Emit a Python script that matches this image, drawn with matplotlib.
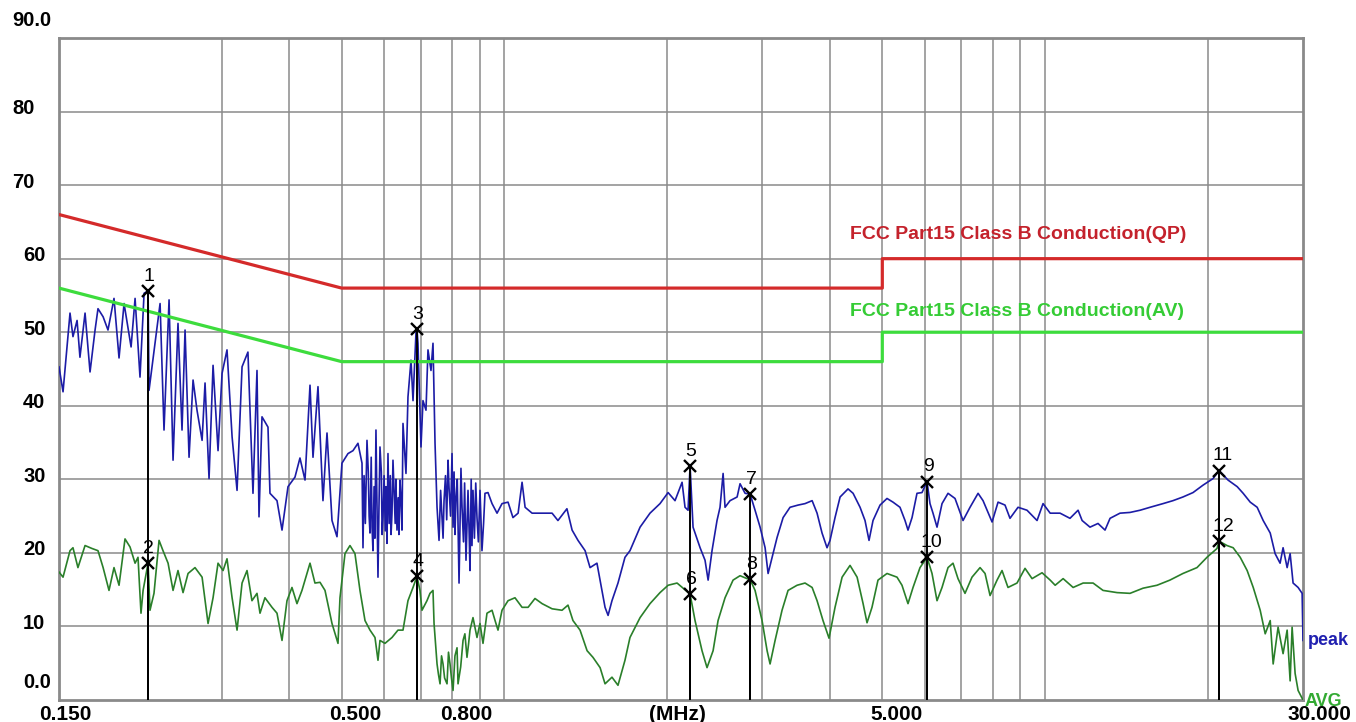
import matplotlib
matplotlib.use('Agg')
import matplotlib.pyplot as plt

plt.rcParams['font.family'] = ['Liberation Sans', 'DejaVu Sans']

# limit lines, MHz / dBuV
qp_freq = [0.15, 0.5, 5.0, 5.0, 30.0]
qp_level = [66, 56, 56, 60, 60]
av_freq = [0.15, 0.5, 5.0, 5.0, 30.0]
av_level = [56, 46, 46, 50, 50]

# peak trace
peak_freq = [
    0.150, 0.1526, 0.1572, 0.1592, 0.1620, 0.1640, 0.1676, 0.1712, 0.1749, 0.1771,
    0.1810, 0.1848, 0.1896, 0.1937, 0.1979, 0.2039, 0.2074, 0.2118, 0.2155, 0.2192,
    0.2201, 0.2258, 0.2307, 0.2346, 0.2397, 0.2438, 0.2490, 0.2533, 0.2566, 0.2610,
    0.2655, 0.2700, 0.2759, 0.2794, 0.2842, 0.2891, 0.2953, 0.3004, 0.3068, 0.3135,
    0.3202, 0.3271, 0.3354, 0.3427, 0.3486, 0.3516, 0.3561, 0.3653, 0.3684, 0.3796,
    0.3878, 0.3978, 0.4098, 0.4186, 0.4277, 0.4369, 0.4425, 0.4520, 0.4617, 0.4697,
    0.4798, 0.4901, 0.5006, 0.5136, 0.5247, 0.5359, 0.5452, 0.5475,
    0.5500, 0.5530, 0.5569, 0.5600, 0.5620, 0.5641, 0.5670, 0.5690, 0.5713,
    0.5740, 0.5760, 0.5786, 0.5836, 0.5860, 0.5886, 0.5920, 0.5940, 0.5962,
    0.5990, 0.6020, 0.6040, 0.6064, 0.6090, 0.6120, 0.6150, 0.6170, 0.6195, 0.6221,
    0.6250, 0.6280, 0.6300, 0.6328, 0.6360, 0.6380, 0.6409, 0.6430,
    0.6464, 0.6492, 0.6575, 0.6631, 0.6717, 0.6775, 0.6861, 0.6890, 0.6920,
    0.7009, 0.7069, 0.7160, 0.7221, 0.7314, 0.7377, 0.7441, 0.7505, 0.7569,
    0.7620, 0.7666, 0.7700, 0.7732, 0.7780, 0.7820, 0.7865, 0.7898, 0.7950,
    0.8000, 0.8034, 0.8070, 0.8100, 0.8138, 0.8180, 0.8242, 0.8280, 0.8310,
    0.8348, 0.8400, 0.8440, 0.8490, 0.8563, 0.8600, 0.8636, 0.8680, 0.8710,
    0.8747, 0.8800, 0.8850, 0.8897, 0.8950, 0.9012, 0.9088, 0.9150,
    0.9205, 0.9324, 0.9486, 0.9690, 0.9898,
    1.0155, 1.037, 1.060, 1.078, 1.092, 1.125, 1.174, 1.225, 1.256, 1.305,
    1.334, 1.368, 1.410, 1.440, 1.483, 1.515, 1.535, 1.555, 1.581, 1.622,
    1.671, 1.707, 1.782, 1.859, 1.940, 2.008, 2.068, 2.131, 2.158, 2.186,
    2.205, 2.233, 2.301, 2.350, 2.381, 2.421, 2.473, 2.505, 2.538, 2.559,
    2.614, 2.694, 2.728, 2.787, 2.847, 2.908, 2.971, 3.035, 3.074, 3.127,
    3.194, 3.277, 3.375, 3.493, 3.598, 3.708, 3.787, 3.868, 3.951, 4.002,
    4.088, 4.177, 4.321, 4.415, 4.548, 4.645, 4.725, 4.806, 4.952, 5.101,
    5.233, 5.391, 5.508, 5.578, 5.675, 5.796, 5.921, 6.049, 6.126, 6.205,
    6.312, 6.448, 6.615, 6.815, 7.051, 7.265, 7.518, 7.679, 7.980, 8.186,
    8.432, 8.613, 8.913, 9.260, 9.665, 9.915, 10.22, 10.66, 11.12, 11.51,
    11.71, 12.11, 12.53, 12.91, 13.19, 13.76, 14.36, 14.99, 15.64, 16.53,
    17.24, 17.99, 18.78, 19.59, 20.45, 20.98, 21.80, 22.67, 23.25, 23.96,
    24.68, 25.32, 26.09, 26.64, 27.21, 27.56, 28.04, 28.40, 28.76, 29.38,
    29.89, 30.0]
peak_level = [
    45.3, 41.9, 52.6, 49.4, 51.6, 46.6, 52.6, 44.6, 50.3, 53.2,
    52.1, 50.3, 54.6, 46.5, 53.9, 48.0, 54.6, 43.9, 55.3, 55.6,
    42.1, 48.5, 53.9, 36.7, 54.4, 32.6, 51.2, 36.7, 50.3, 33.0,
    43.5, 39.4, 35.3, 43.1, 30.1, 45.5, 33.9, 44.4, 47.6, 35.8,
    28.5, 45.3, 47.3, 28.1, 44.8, 24.9, 38.5, 37.1, 28.1, 27.1,
    23.1, 29.0, 30.3, 32.9, 29.9, 42.8, 33.0, 42.6, 27.1, 36.3,
    24.4, 22.2, 32.2, 33.5, 33.9, 34.9, 32.2, 20.7,
    30.5, 24.0, 35.3, 31.0, 25.0, 22.7, 33.0, 23.5, 20.3,
    29.0, 22.0, 36.7, 16.7, 26.0, 34.4, 31.0, 22.5, 24.9,
    30.5, 23.0, 29.0, 21.3, 33.5, 24.0, 30.5, 22.5, 25.4, 32.6,
    28.5, 24.0, 30.0, 23.1, 27.5, 22.5, 29.9, 28.0,
    23.1, 37.6, 30.8, 41.2, 46.2, 40.7, 49.9, 50.4, 48.5,
    34.4, 40.7, 39.4, 47.6, 44.8, 48.5, 34.9, 26.2, 21.7,
    28.5, 24.8, 22.0, 27.1, 30.5, 24.5, 32.6, 28.9, 25.0,
    33.5, 23.5, 31.0, 22.5, 27.6, 30.0, 15.9, 25.0, 31.5,
    26.2, 21.5, 29.5, 19.0, 28.5, 23.5, 17.6, 30.0, 21.0,
    28.5, 22.0, 29.5, 24.8, 21.5, 28.5, 20.3, 24.0,
    28.1, 28.2, 26.7, 25.4, 26.7,
    26.9, 24.8, 25.4, 29.6, 26.2, 25.4, 25.4, 25.4, 24.4, 26.0,
    23.1, 21.7, 20.3, 18.0, 18.6, 14.9, 12.6, 11.5, 13.5, 15.9,
    19.4, 20.3, 23.5, 25.4, 26.7, 28.2, 27.1, 29.6, 26.2, 25.8,
    31.8, 23.5, 20.7, 19.0, 16.3, 20.3, 24.4, 26.2, 30.8, 26.2,
    27.1, 27.6, 29.4, 28.1, 28.0, 25.8, 23.5, 20.7, 17.2, 19.4,
    22.1, 24.8, 26.2, 26.5, 26.7, 27.1, 25.4, 22.7, 20.7, 21.7,
    24.8, 27.6, 28.7, 28.1, 26.2, 24.4, 21.7, 24.4, 26.5, 27.4,
    26.9, 26.2, 24.4, 23.1, 24.8, 28.1, 28.2, 29.7, 26.7, 25.4,
    23.5, 26.7, 28.1, 27.4, 24.4, 26.2, 28.1, 27.1, 24.2, 26.9,
    26.5, 24.7, 26.2, 25.8, 24.4, 26.7, 25.4, 25.4, 24.7, 25.8,
    24.4, 23.5, 24.0, 23.1, 24.7, 25.4, 25.5, 25.8, 26.2, 26.7,
    27.1, 27.6, 28.2, 29.2, 30.1, 31.2, 29.9, 29.0, 28.1, 26.9,
    26.2, 24.4, 22.7, 19.9, 18.6, 20.7, 18.0, 19.9, 15.9, 15.3,
    14.5, 8.1]

# average trace
avg_freq = [
    0.150, 0.1526, 0.1572, 0.1592, 0.1626, 0.1676, 0.1726, 0.1771, 0.1810, 0.1856,
    0.1896, 0.1937, 0.1987, 0.2030, 0.2074, 0.2100, 0.2127, 0.2146, 0.2192, 0.2210,
    0.2248, 0.2297, 0.2336, 0.2387, 0.2438, 0.2490, 0.2544, 0.2599, 0.2677, 0.2759,
    0.2830, 0.2891, 0.2953, 0.3017, 0.3068, 0.3135, 0.3202, 0.3271, 0.3341, 0.3412,
    0.3486, 0.3531, 0.3606, 0.3716, 0.3796, 0.3878, 0.3961, 0.4046, 0.4133, 0.4222,
    0.4369, 0.4462, 0.4559, 0.4657, 0.4798, 0.4922, 0.4964, 0.5071, 0.5180, 0.5291,
    0.5405, 0.5522, 0.5641, 0.5762, 0.5836, 0.5886, 0.6013, 0.6195, 0.6355, 0.6492,
    0.6631, 0.6775, 0.6890, 0.6979, 0.7039, 0.7190, 0.7283, 0.7377, 0.7410,
    0.7505, 0.7550, 0.7602, 0.7650, 0.7699, 0.7750, 0.7831, 0.7880, 0.7932, 0.7980,
    0.8034, 0.8100, 0.8172, 0.8207, 0.8300, 0.8384, 0.8450, 0.8526, 0.8580, 0.8636,
    0.8747, 0.8897, 0.9012, 0.9128, 0.9284, 0.9486, 0.9609, 0.9730, 0.9898, 1.0155,
    1.046, 1.078, 1.106, 1.139, 1.174, 1.225, 1.278, 1.311, 1.339, 1.380,
    1.422, 1.458, 1.503, 1.535, 1.581, 1.622, 1.671, 1.707, 1.782, 1.859,
    1.940, 2.008, 2.086, 2.140, 2.205, 2.252, 2.320, 2.370, 2.432, 2.484,
    2.559, 2.648, 2.728, 2.811, 2.847, 2.908, 2.996, 3.061, 3.100, 3.167,
    3.262, 3.347, 3.478, 3.598, 3.708, 3.787, 3.884, 3.985, 4.088, 4.213,
    4.358, 4.491, 4.607, 4.685, 4.785, 4.909, 5.101, 5.323, 5.437, 5.578,
    5.699, 5.871, 6.049, 6.179, 6.312, 6.448, 6.615, 6.757, 6.902, 7.111,
    7.326, 7.582, 7.745, 7.912, 8.151, 8.326, 8.540, 8.874, 9.182, 9.462,
    9.873, 10.22, 10.44, 10.80, 11.27, 11.76, 12.27, 12.80, 13.59, 14.36,
    15.18, 16.11, 17.02, 17.99, 19.10, 19.93, 20.80, 20.98, 21.70, 22.28,
    22.96, 23.65, 24.27, 25.00, 25.54, 26.09, 26.42, 26.98, 27.56, 28.04,
    28.40, 28.64, 29.01, 29.38, 30.0]
avg_level = [
    17.4, 16.7, 20.3, 20.7, 18.0, 21.0, 20.6, 20.3, 18.0, 14.9,
    18.0, 15.6, 21.9, 20.8, 18.6, 19.4, 11.8, 14.9, 18.6, 12.2,
    14.5, 21.7, 20.3, 18.6, 14.9, 17.6, 14.6, 17.2, 18.0, 16.7,
    10.4, 13.9, 18.6, 17.6, 19.2, 13.9, 9.5, 15.9, 17.6, 13.5,
    14.5, 11.8, 13.9, 12.6, 11.8, 8.1, 13.5, 15.3, 13.1, 14.9,
    18.6, 15.9, 16.0, 14.9, 10.4, 7.7, 13.9, 19.9, 21.0, 19.9,
    14.9, 10.8, 9.5, 8.5, 5.4, 8.1, 7.7, 8.5, 9.5, 9.5,
    13.5, 15.3, 16.8, 14.9, 12.2, 13.5, 14.5, 14.9, 10.4,
    4.9, 3.5, 2.2, 6.0, 4.9, 3.0, 2.2, 6.5, 4.9, 3.0,
    1.3, 6.0, 7.1, 2.2, 4.5, 8.1, 9.0, 5.8, 7.5, 9.5,
    11.2, 8.5, 10.4, 7.7, 11.8, 12.2, 10.8, 9.5, 12.2, 13.5,
    13.9, 12.6, 12.6, 13.8, 13.1, 12.4, 12.2, 12.9, 10.8, 9.5,
    6.7, 5.8, 4.4, 2.2, 3.1, 2.0, 5.4, 8.5, 11.2, 13.1,
    14.6, 15.6, 15.9, 15.2, 14.4, 10.8, 6.7, 4.4, 6.7, 10.8,
    13.9, 16.3, 16.9, 16.5, 16.4, 14.9, 10.8, 6.7, 4.9, 8.1,
    12.2, 14.9, 15.6, 15.9, 15.3, 13.5, 10.8, 8.4, 12.6, 16.7,
    18.3, 16.7, 13.1, 10.5, 12.6, 16.3, 17.2, 16.7, 15.6, 13.1,
    15.3, 18.0, 19.4, 17.2, 13.5, 15.3, 18.0, 18.6, 16.5, 14.5,
    16.7, 18.0, 17.2, 14.2, 16.3, 17.6, 15.3, 15.9, 17.9, 16.5,
    17.3, 16.3, 15.6, 16.5, 15.3, 15.9, 15.9, 14.9, 14.6, 14.5,
    15.2, 15.6, 16.3, 17.2, 18.0, 19.4, 20.6, 21.6, 21.0, 20.7,
    19.4, 17.6, 15.3, 12.2, 9.0, 10.8, 4.9, 9.9, 6.3, 9.5,
    2.6, 9.9, 3.6, 1.3, 0.0]

# markers
marker_no = ['1', '2', '3', '4', '5', '6', '7', '8', '9', '10', '11', '12']
marker_freq = [0.219, 0.219, 0.689, 0.689, 2.205, 2.205, 2.847, 2.847, 6.049, 6.049, 20.98, 20.98]
marker_level = [55.6, 18.6, 50.4, 16.8, 31.8, 14.4, 28.0, 16.4, 29.7, 19.4, 31.2, 21.6]

grid_freq = [0.3, 0.4, 0.5, 0.6, 0.7, 0.8, 0.9, 1, 2, 3, 4, 5, 6, 7, 8, 9, 10, 20]
grid_level = [10, 20, 30, 40, 50, 60, 70, 80]
x_labels = ['0.150', '0.500', '0.800', '5.000', '30.000']
x_label_freq = [0.15, 0.5, 0.8, 5.0, 30.0]
y_labels = ['0.0', '10', '20', '30', '40', '50', '60', '70', '80', '90.0']
y_label_level = [0, 10, 20, 30, 40, 50, 60, 70, 80, 90]

GRID = '#8a8a8a'
BLUE = '#1c1ca6'
DKGREEN = '#2a7f2a'
RED = '#d42a2a'
LIME = '#3ddc3d'

fig = plt.figure(figsize=(13.56, 7.22), dpi=100)
ax = fig.add_axes([59 / 1356, 22 / 722, 1244 / 1356, 662 / 722])
ax.set_xscale('log')
ax.set_xlim(0.15, 30)
ax.set_ylim(0, 90)

ax.set_xticks(grid_freq)
ax.set_xticks([], minor=True)
ax.set_yticks(grid_level)
ax.tick_params(which='both', length=0, labelbottom=False, labelleft=False)
ax.grid(True, color=GRID, lw=1.1)
for s in ax.spines.values():
    s.set_color(GRID)
    s.set_linewidth(2)

ax.plot(avg_freq, avg_level, color=DKGREEN, lw=1.2, zorder=3)
ax.plot(peak_freq, peak_level, color=BLUE, lw=1.2, zorder=3)
ax.plot(qp_freq, qp_level, color=RED, lw=2.3, zorder=4)
ax.plot(av_freq, av_level, color=LIME, lw=2.3, zorder=4)

ax.vlines(marker_freq, 0, marker_level, color='black', lw=1.4, zorder=5)
ax.plot(marker_freq, marker_level, 'x', color='black', ms=9, mew=1.7, zorder=6)
for n, f, v in zip(marker_no, marker_freq, marker_level):
    ax.annotate(n, (f, v), xytext=(1 if len(n) == 1 else 4, 15), textcoords='offset pixels',
                ha='center', va='center', fontsize=14, color='black', zorder=6)

ax.annotate('FCC Part15 Class B Conduction(QP)', (4.36, 60), xytext=(0, 24),
            textcoords='offset pixels', ha='left', va='center',
            fontsize=14, fontweight='bold', color='#c4222c')
ax.annotate('FCC Part15 Class B Conduction(AV)', (4.36, 50), xytext=(0, 21),
            textcoords='offset pixels', ha='left', va='center',
            fontsize=14, fontweight='bold', color='#35cc35')

# axis labels
for lab, f in zip(x_labels, x_label_freq):
    dx = 14
    if lab == '0.150':
        dx = 6
    elif lab == '30.000':
        dx = 16
    ax.annotate(lab, (f, 0), xycoords=('data', 'axes fraction'), xytext=(dx, -14),
                textcoords='offset pixels', ha='center', va='center',
                fontsize=15, fontweight='bold', annotation_clip=False)
ax.annotate('(MHz)', (0.497, 0), xycoords='axes fraction', xytext=(0, -14),
            textcoords='offset pixels', ha='center', va='center',
            fontsize=15, fontweight='bold', annotation_clip=False)

for lab, v in zip(y_labels, y_label_level):
    dy = 3
    if lab in ('90.0', '0.0'):
        dy = 17
    if lab in ('90.0', '80', '70'):
        dx = -47
    else:
        dx = -36
    ax.annotate(lab, (0, v), xycoords=('axes fraction', 'data'), xytext=(dx, dy),
                textcoords='offset pixels', ha='left', va='center',
                fontsize=14.5, fontweight='bold', annotation_clip=False)

ax.annotate('peak', (1, peak_level[-1]), xycoords=('axes fraction', 'data'),
            xytext=(5, 0), textcoords='offset pixels', ha='left', va='center',
            fontsize=13, fontweight='bold', color='#2020b0', annotation_clip=False)
ax.annotate('AVG', (1, avg_level[-1]), xycoords=('axes fraction', 'data'),
            xytext=(2, -2), textcoords='offset pixels', ha='left', va='center',
            fontsize=13, fontweight='bold', color='#33aa33', annotation_clip=False)

fig.savefig('out.png', dpi=100)
